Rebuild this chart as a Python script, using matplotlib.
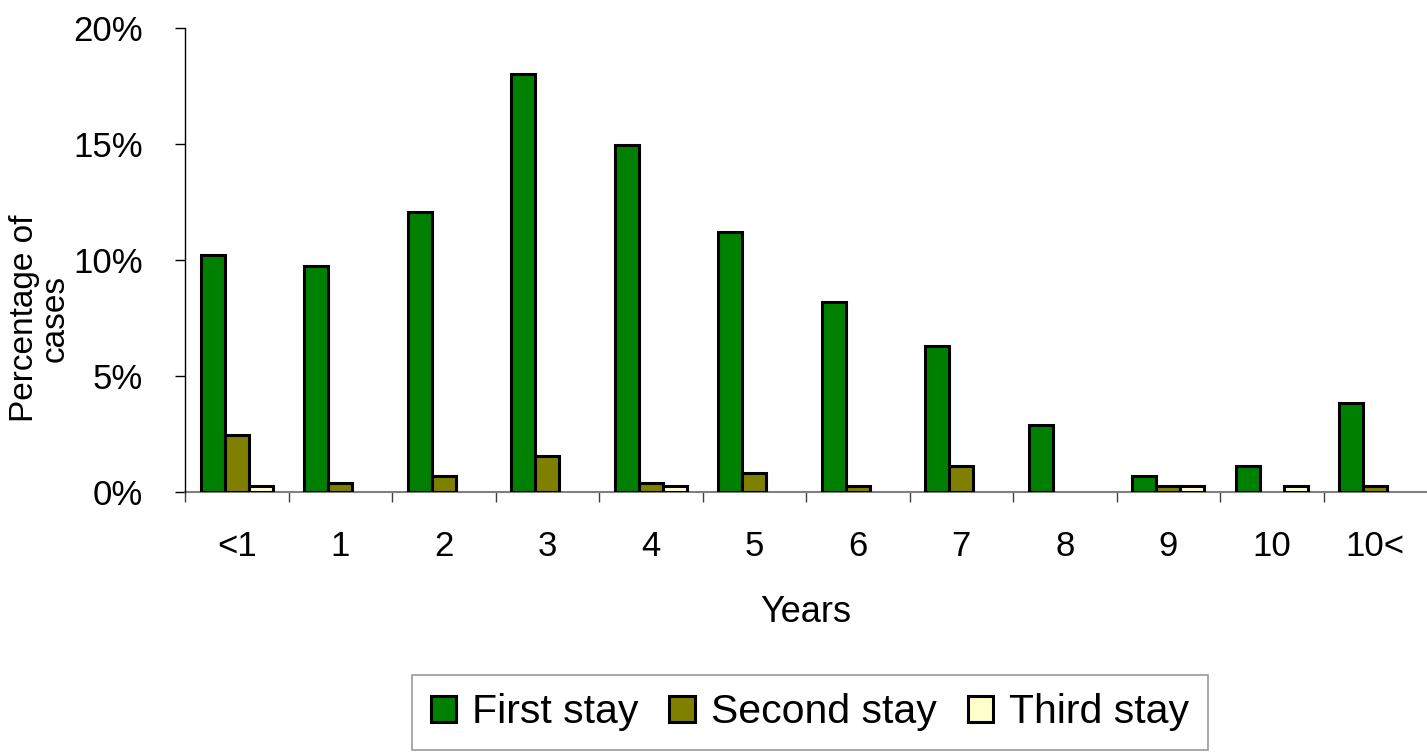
import matplotlib
matplotlib.use("Agg")
import matplotlib.pyplot as plt
from matplotlib import font_manager
import numpy as np

categories = ["<1", "1", "2", "3", "4", "5", "6", "7", "8", "9", "10", "10<"]
first_stay = [10.2, 9.75, 12.05, 18.0, 14.95, 11.2, 8.2, 6.3, 2.87, 0.68, 1.1, 3.85]
second_stay = [2.45, 0.4, 0.67, 1.55, 0.38, 0.82, 0.25, 1.1, 0.0, 0.25, 0.0, 0.25]
third_stay = [0.25, 0.0, 0.0, 0.0, 0.25, 0.0, 0.0, 0.0, 0.0, 0.25, 0.25, 0.0]
series_names = ["First stay", "Second stay", "Third stay"]
yticks = [0, 5, 10, 15, 20]
ytick_labels = ["0%", "5%", "10%", "15%", "20%"]

def pick_font():
    for name in ["Liberation Sans Narrow", "Arial Narrow", "Liberation Sans"]:
        try:
            font_manager.findfont(font_manager.FontProperties(family=name), fallback_to_default=False)
            return name
        except Exception:
            continue
    return "DejaVu Sans"

FONT = pick_font()
plt.rcParams["font.family"] = [FONT, "DejaVu Sans"]

W, H = 1427, 752
fig = plt.figure(figsize=(W / 100, H / 100), dpi=100)
ax = fig.add_axes([185 / W, 1 - 492 / H, (W - 185) / W, (492 - 28) / H])

x = np.arange(len(categories))
bw = 0.232
colors = ["#008000", "#808000", "#FFFFCC"]
for i, (vals, c, name) in enumerate(zip([first_stay, second_stay, third_stay], colors, series_names)):
    v = np.array(vals)
    mask = v > 0
    ax.bar(x[mask] + (i - 1) * bw, v[mask], width=bw, color=c, edgecolor="black",
           linewidth=2.2, label=name, zorder=3)

ax.set_xlim(-0.5, len(categories) - 0.5)
ax.set_ylim(0, 20)
ax.set_yticks(yticks)
ax.set_yticklabels(ytick_labels)
ax.set_xticks(x)
ax.set_xticklabels(categories)
ax.set_xticks(np.arange(-0.5, len(categories) - 0.5, 1.0), minor=True)

ax.tick_params(axis="x", which="major", length=0, pad=27, labelsize=25)
ax.tick_params(axis="x", which="minor", length=7.2, width=1.0, color="#404040", direction="out")
ax.tick_params(axis="y", which="major", length=7.2, width=1.0, color="black", direction="out",
               pad=23, labelsize=25)

for s in ["top", "right"]:
    ax.spines[s].set_visible(False)
ax.spines["left"].set_color("black")
ax.spines["left"].set_linewidth(1.0)
ax.spines["bottom"].set_color("#808080")
ax.spines["bottom"].set_linewidth(1.5)
ax.spines["bottom"].set_zorder(2)

ax.set_xlabel("Years", fontsize=26, va="center")
ax.xaxis.set_label_coords(0.5, (492 - 612) / 464)
ax.set_ylabel("Percentage of\ncases", fontsize=24, va="center", multialignment="center",
              linespacing=1.0)
ax.yaxis.set_label_coords((40 - 185) / (W - 185), (492 - 318) / 464)

leg = ax.legend(loc="upper center", bbox_to_anchor=((810 - 185) / (W - 185), (492 - 675) / 464),
                ncol=3, fontsize=29.5, frameon=True, fancybox=False, handlelength=0.62,
                handleheight=0.62, handletextpad=0.4, columnspacing=0.75, borderpad=0.45,
                borderaxespad=0)
leg.get_frame().set_edgecolor("#808080")
leg.get_frame().set_linewidth(1.2)

fig.savefig("out.png", dpi=100)
